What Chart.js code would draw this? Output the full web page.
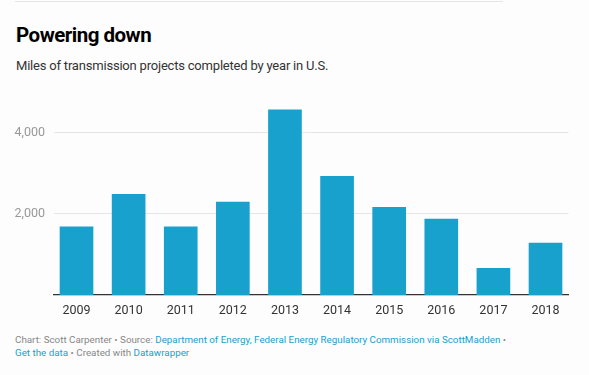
<!DOCTYPE html>
<html>
<head>
<meta charset="utf-8">
<script src="https://cdn.jsdelivr.net/npm/chart.js@4.4.1/dist/chart.umd.min.js"></script>
<style>
  html, body { margin: 0; padding: 0; background: #fdfdfd; }
  body { width: 589px; height: 375px; position: relative; overflow: hidden; font-family: Roboto, sans-serif; }
  .topline { position: absolute; left: 15px; top: 1px; width: 488px; height: 1px; background: #e6e6e6; }
  h1 { position: absolute; left: 16px; top: 22.5px; margin: 0; font-size: 20.5px; letter-spacing: -0.5px; font-weight: 700; color: #000; line-height: 24px; }
  .sub { position: absolute; left: 16px; top: 58px; margin: 0; font-size: 13px; letter-spacing: -0.2px; color: #333; line-height: 16px; }
  .wrap { position: absolute; left: 0; top: 92px; width: 589px; height: 228px; }
  .foot { position: absolute; left: 15px; top: 333px; width: 570px; font-size: 9.8px; line-height: 13px; color: #888; }
  .foot a { color: #18a1cd; text-decoration: none; }
</style>
</head>
<body>
<div class="topline"></div>
<h1>Powering down</h1>
<p class="sub">Miles of transmission projects completed by year in U.S.</p>
<div class="wrap"><canvas id="chart"></canvas></div>
<div class="foot">Chart: Scott Carpenter • Source: <a>Department of Energy, Federal Energy Regulatory Commission via ScottMadden</a> •<br><a>Get the data</a> • Created with <a>Datawrapper</a></div>

<script>
// Miles of transmission projects completed, by year
const years = [2009, 2010, 2011, 2012, 2013, 2014, 2015, 2016, 2017, 2018];
const miles = [1680, 2480, 1680, 2290, 4570, 2930, 2160, 1870, 660, 1280];
const yTicks = [2000, 4000];

const ctx = document.getElementById('chart').getContext('2d');
new Chart(ctx, {
    type: 'bar',
    data: {
        datasets: [{
            label: 'Miles',
            data: years.map((y, i) => ({ x: y, y: miles[i] })),
            backgroundColor: '#18a1cd',
            barThickness: 33
        }]
    },
    options: {
        responsive: true,
        maintainAspectRatio: false,
        animation: false,
        layout: { padding: { top: 10, right: 20.5, left: 0, bottom: 0 } },
        plugins: {
            legend: { display: false },
            tooltip: { enabled: false }
        },
        scales: {
            x: {
                type: 'linear',
                offset: false,
                min: 2008.568,
                max: 2018.441,
                grid: { display: false, drawTicks: false },
                border: { display: true, color: '#333', width: 1.2 },
                afterBuildTicks: scale => { scale.ticks = years.map(v => ({ value: v })); },
                afterFit: scale => { scale.height = 25; },
                ticks: {
                    color: '#333',
                    padding: 8.5,
                    font: { family: 'Roboto', size: 12.5 },
                    callback: v => String(v)
                }
            },
            y: {
                min: 0,
                max: 4600,
                border: { display: false },
                grid: { color: '#e6e6e6', drawTicks: false },
                afterBuildTicks: scale => { scale.ticks = yTicks.map(v => ({ value: v })); },
                afterFit: scale => { scale.width = 54; },
                ticks: {
                    color: '#999',
                    padding: 9,
                    font: { family: 'Roboto', size: 12.5 },
                    callback: v => v.toLocaleString('en-US')
                }
            }
        }
    }
});
</script>
</body>
</html>
